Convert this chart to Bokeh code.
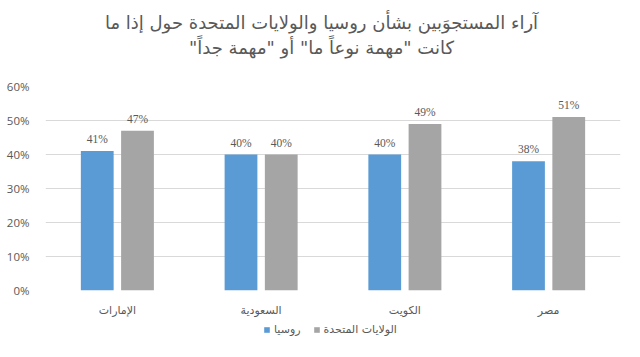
from bokeh.plotting import figure
from bokeh.layouts import column
from bokeh.models import (ColumnDataSource, FactorRange, Range1d, Legend, LegendItem, Label,
                          LabelSet, NumeralTickFormatter, FixedTicker)
from bokeh.transform import dodge
from bokeh.embed import file_html
from bokeh.resources import INLINE

categories = ["الإمارات", "السعودية", "الكويت", "مصر"]
russia = [0.41, 0.40, 0.40, 0.38]
usa = [0.47, 0.40, 0.49, 0.51]
series_names = ["روسيا", "الولايات المتحدة"]
y_ticks = [0, 0.1, 0.2, 0.3, 0.4, 0.5, 0.6]
title_line1 = "آراء المستجوَبين بشأن روسيا والولايات المتحدة حول إذا ما"
title_line2 = '\u200fكانت "مهمة نوعاً ما" أو "مهمة جداً"\u200f'

BLUE = "#5B9BD5"
GRAY = "#A5A5A5"
TXT = "#595959"
AR_FONT = "DejaVu Sans"
NUM_FONT = "Open Sans"
W = 624


def strip(height):
    f = figure(width=W, height=height, x_range=Range1d(0, 1), y_range=Range1d(0, 1),
               output_backend="svg", toolbar_location=None,
               x_axis_location=None, y_axis_location=None,
               min_border_left=0, min_border_right=0, min_border_top=0, min_border_bottom=0)
    f.grid.visible = False
    f.outline_line_color = None
    return f


src = ColumnDataSource(dict(
    cat=categories, russia=russia, usa=usa,
    rlab=[f"{round(v*100)}%" for v in russia],
    ulab=[f"{round(v*100)}%" for v in usa],
))

# title strip (its frame is aligned with the chart frame, which starts 45px in)
tf = strip(70)
tf.add_layout(Label(x=276, y=48, x_units="screen", y_units="screen", text=title_line1,
                    text_align="center", text_baseline="middle", text_font=AR_FONT,
                    text_font_size="18px", text_color=TXT))
tf.add_layout(Label(x=276, y=23, x_units="screen", y_units="screen", text=title_line2,
                    text_align="center", text_baseline="middle", text_font=AR_FONT,
                    text_font_size="18px", text_color=TXT))

# main chart
p = figure(width=W, height=249, x_range=FactorRange(*categories), y_range=Range1d(0, 0.6),
           output_backend="svg", toolbar_location=None,
           min_border_left=45, min_border_right=4, min_border_top=16, min_border_bottom=25)

r1 = p.vbar(x=dodge("cat", -0.14, range=p.x_range), top="russia", width=0.228, source=src,
            fill_color=BLUE, line_color=None)
r2 = p.vbar(x=dodge("cat", 0.14, range=p.x_range), top="usa", width=0.228, source=src,
            fill_color=GRAY, line_color=None)

for col, lab, off in (("russia", "rlab", -0.14), ("usa", "ulab", 0.14)):
    p.add_layout(LabelSet(x=dodge("cat", off, range=p.x_range), y=col, text=lab, source=src,
                          text_align="center", text_baseline="bottom", y_offset=6,
                          text_font=NUM_FONT, text_font_size="11.5px", text_color=TXT))

p.xgrid.grid_line_color = None
p.ygrid.grid_line_color = "#d9d9d9"
p.ygrid.ticker = FixedTicker(ticks=y_ticks)
p.outline_line_color = None

p.yaxis.ticker = FixedTicker(ticks=y_ticks)
p.yaxis.formatter = NumeralTickFormatter(format="0%")
p.yaxis.axis_line_color = None
p.yaxis.major_tick_line_color = None
p.yaxis.minor_tick_line_color = None
p.yaxis.major_label_text_font = NUM_FONT
p.yaxis.major_label_text_font_size = "11.5px"
p.yaxis.major_label_text_color = TXT
p.yaxis.major_label_standoff = 10

p.xaxis.axis_line_color = None
p.xaxis.major_tick_line_color = None
p.xaxis.major_label_text_font = AR_FONT
p.xaxis.major_label_text_font_size = "11px"
p.xaxis.major_label_text_color = TXT
p.xaxis.major_label_standoff = 7

# legend strip (sample renderers are zero-height, so only their legend swatches show)
lg = strip(22)
g1 = lg.vbar(x="russia", top="russia", bottom="russia", width=0.01, source=src,
             fill_color=BLUE, line_color=None)
g2 = lg.vbar(x="usa", top="usa", bottom="usa", width=0.01, source=src,
             fill_color=GRAY, line_color=None)
legend = Legend(items=[LegendItem(label=series_names[0], renderers=[g1]),
                       LegendItem(label=series_names[1], renderers=[g2])],
                orientation="horizontal", location=(218, 5),
                glyph_width=7, glyph_height=7, label_text_font=AR_FONT,
                label_text_font_size="11px", label_text_color=TXT,
                label_height=12,
                border_line_color=None, background_fill_alpha=0,
                spacing=12, label_standoff=4, padding=0, margin=0)
lg.add_layout(legend, "center")

layout = column(tf, p, lg, spacing=0)
open("out.html", "w").write(file_html(layout, INLINE))
